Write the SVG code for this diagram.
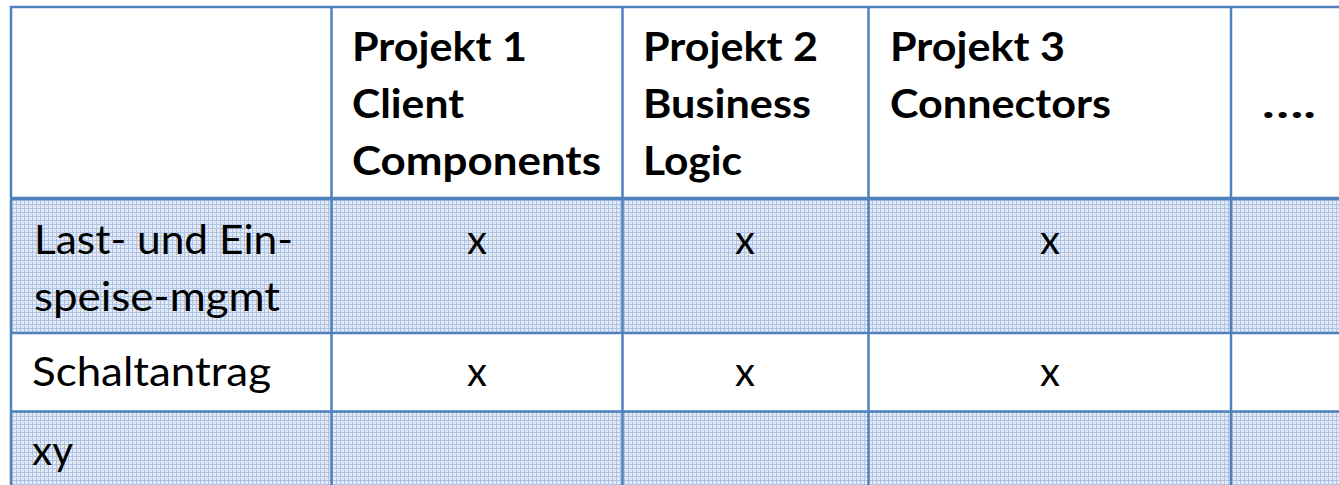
<svg xmlns="http://www.w3.org/2000/svg" width="1339" height="485" viewBox="0 0 1339 485">
  <style>
    .hd { font-family: Lato, "Liberation Sans", sans-serif; font-weight: bold; font-size: 40px; fill: #000; }
    .bd { font-family: Lato, "Liberation Sans", sans-serif; font-weight: normal; font-size: 40px; fill: #000; }
    .ln { stroke: #4f81bd; stroke-width: 2.5; fill: none; }
    .lnb { stroke: #4f81bd; stroke-width: 3.5; fill: none; }
    .shade { fill: url(#grid); }
  </style>
  <defs>
    <pattern id="grid" x="0" y="0" width="4" height="4" patternUnits="userSpaceOnUse">
      <rect width="4" height="4" fill="#e3eaf6"/>
      <rect x="0" y="0" width="4" height="1" fill="#aec3e3"/>
      <rect x="0" y="0" width="1" height="4" fill="#aec3e3"/>
    </pattern>
  </defs>
  <rect width="1339" height="485" fill="#ffffff"/>

  <g id="row-shading">
    <rect class="shade" x="11" y="198" width="1328" height="135"/>
    <rect class="shade" x="11" y="411" width="1328" height="74"/>
  </g>

  <g id="grid-lines">
    <line class="ln" x1="10" y1="7" x2="1339" y2="7"/>
    <line class="lnb" x1="10" y1="198.5" x2="1339" y2="198.5"/>
    <line class="ln" x1="10" y1="333" x2="1339" y2="333"/>
    <line class="ln" x1="10" y1="411.5" x2="1339" y2="411.5"/>
    <line class="ln" x1="11" y1="6" x2="11" y2="485"/>
    <line class="ln" x1="331.5" y1="6" x2="331.5" y2="485"/>
    <line class="ln" x1="622.5" y1="6" x2="622.5" y2="485"/>
    <line class="ln" x1="868.5" y1="6" x2="868.5" y2="485"/>
    <line class="ln" x1="1231" y1="6" x2="1231" y2="485"/>
  </g>

  <g id="header-projekt1">
    <text class="hd" x="352" y="61" textLength="175" lengthAdjust="spacingAndGlyphs">Projekt 1</text>
    <text class="hd" x="352" y="118" textLength="112" lengthAdjust="spacingAndGlyphs">Client</text>
    <text class="hd" x="352" y="175" textLength="249" lengthAdjust="spacingAndGlyphs">Components</text>
  </g>
  <g id="header-projekt2">
    <text class="hd" x="643" y="61" textLength="175" lengthAdjust="spacingAndGlyphs">Projekt 2</text>
    <text class="hd" x="643" y="118" textLength="168" lengthAdjust="spacingAndGlyphs">Business</text>
    <text class="hd" x="643" y="175" textLength="99" lengthAdjust="spacingAndGlyphs">Logic</text>
  </g>
  <g id="header-projekt3">
    <text class="hd" x="890" y="61" textLength="175" lengthAdjust="spacingAndGlyphs">Projekt 3</text>
    <text class="hd" x="890" y="118" textLength="221" lengthAdjust="spacingAndGlyphs">Connectors</text>
  </g>
  <g id="header-more">
    <text class="hd" x="1262" y="118" textLength="54" lengthAdjust="spacingAndGlyphs">….</text>
  </g>

  <g id="row-lastmgmt">
    <text class="bd" x="34" y="254" textLength="259" lengthAdjust="spacingAndGlyphs">Last- und Ein-</text>
    <text class="bd" x="34" y="311" textLength="246" lengthAdjust="spacingAndGlyphs">speise-mgmt</text>
    <text class="bd" x="477" y="254" text-anchor="middle">x</text>
    <text class="bd" x="745" y="254" text-anchor="middle">x</text>
    <text class="bd" x="1050" y="254" text-anchor="middle">x</text>
  </g>
  <g id="row-schaltantrag">
    <text class="bd" x="32" y="386" textLength="239" lengthAdjust="spacingAndGlyphs">Schaltantrag</text>
    <text class="bd" x="477" y="386" text-anchor="middle">x</text>
    <text class="bd" x="745" y="386" text-anchor="middle">x</text>
    <text class="bd" x="1050" y="386" text-anchor="middle">x</text>
  </g>
  <g id="row-xy">
    <text class="bd" x="32" y="465" textLength="41" lengthAdjust="spacingAndGlyphs">xy</text>
  </g>
</svg>
